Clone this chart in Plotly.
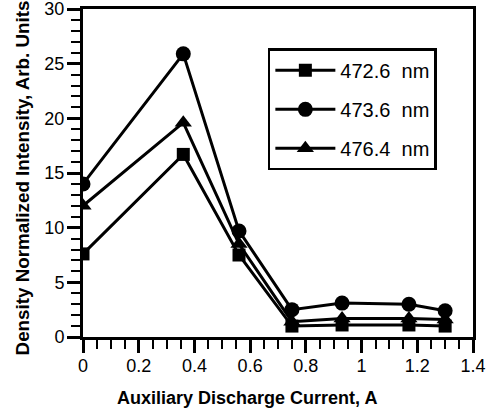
import plotly.graph_objects as go

current = [0, 0.36, 0.56, 0.75, 0.93, 1.17, 1.3]
i_4726 = [7.6, 16.7, 7.5, 1.0, 1.1, 1.1, 1.0]
i_4736 = [14.0, 25.9, 9.7, 2.5, 3.1, 3.0, 2.4]
i_4764 = [12.0, 19.6, 8.5, 1.4, 1.7, 1.7, 1.6]
names = ["472.6  nm", "473.6  nm", "476.4  nm"]
symbols = ["square", "circle", "triangle-up"]
msizes = [13, 15, 15]
x_ticks = [0, 0.2, 0.4, 0.6, 0.8, 1.0, 1.2, 1.4]
x_ticktext = ["0", "0.2", "0.4", "0.6", "0.8", "1", "1.2", "1.4"]
x_title = "Auxiliary Discharge Current, A"
y_title = "Density Normalized Intensity, Arb. Units"

FONT = "Liberation Sans, Arial, Helvetica, sans-serif"

fig = go.Figure()
for i, (ys, nm, sym, ms) in enumerate(zip([i_4726, i_4736, i_4764], names, symbols, msizes)):
    fig.add_trace(go.Scatter(
        x=current, y=ys, name=nm, mode="lines+markers",
        line=dict(color="black", width=3),
        marker=dict(symbol=sym, size=ms, color="black"),
        legendgroup=f"g{i}",
    ))

axis_common = dict(
    showline=True, linecolor="black", linewidth=3, mirror=True,
    ticks="outside", tickcolor="black", tickwidth=2.5, ticklen=13,
    showgrid=False, zeroline=False, automargin=False,
    ticklabeloverflow="allow",
    tickfont=dict(family=FONT, size=18, color="black"),
)

fig.update_layout(
    xaxis=dict(range=[0, 1.4], tickmode="array", tickvals=x_ticks, ticktext=x_ticktext,
               ticklabelstandoff=-3,
               minor=dict(ticks="outside", ticklen=9, tickwidth=2, tickcolor="black", dtick=0.05, tick0=0),
               **axis_common),
    yaxis=dict(range=[0, 30], tickmode="linear", tick0=0, dtick=5,
               ticklabelstandoff=-1,
               minor=dict(ticks="outside", ticklen=9, tickwidth=2, tickcolor="black", dtick=1, tick0=0),
               **axis_common),
)

fig.add_annotation(text=f"<b>{x_title}</b>", xref="paper", yref="paper", x=0.4205, y=-0.185,
                   xanchor="center", yanchor="middle", showarrow=False,
                   font=dict(family=FONT, size=18, color="black"))
fig.add_annotation(text=f"<b>{y_title}</b>", xref="paper", yref="paper", x=-0.156, y=0.484,
                   xanchor="center", yanchor="middle", showarrow=False, textangle=-90,
                   font=dict(family=FONT, size=18.8, color="black"))

fig.update_layout(
    width=496, height=409,
    margin=dict(l=83, r=23, t=9, b=72),
    paper_bgcolor="white", plot_bgcolor="white",
    showlegend=True,
    legend=dict(
        x=0.474, y=0.88, xanchor="left", yanchor="top",
        bordercolor="black", borderwidth=2.5, bgcolor="white",
        font=dict(family=FONT, size=20, color="black"),
        tracegroupgap=10, itemwidth=60,
    ),
)

fig.write_html("out.html")
